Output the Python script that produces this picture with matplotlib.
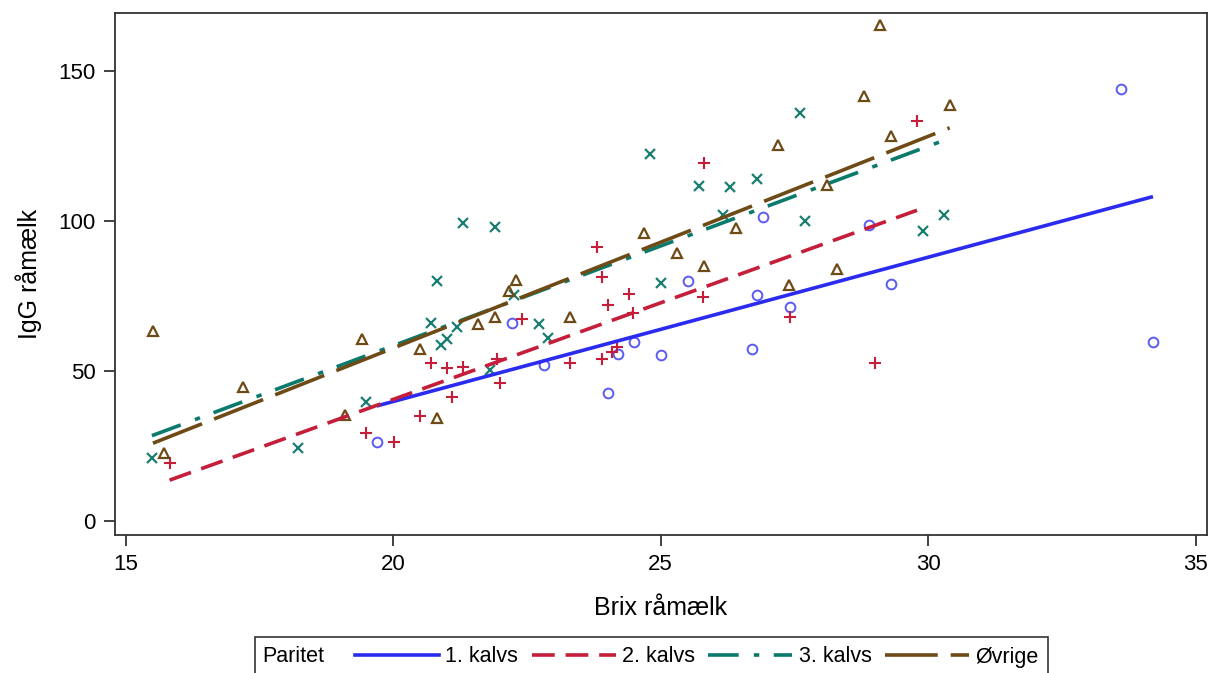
import numpy as np
import matplotlib.pyplot as plt
from matplotlib.lines import Line2D
from matplotlib.patches import Rectangle

plt.rcParams['font.family'] = ['Liberation Sans', 'DejaVu Sans']

# Brix / IgG readings per parity group
brix_1 = [19.69, 22.22, 22.81, 24.01, 24.21, 24.50, 25.01, 25.51, 26.80, 26.70,
          27.41, 29.30, 26.91, 28.90, 33.60, 34.20]
igg_1 = [26.1, 65.7, 51.8, 42.6, 55.5, 59.6, 55.2, 79.8, 75.2, 57.1,
         71.3, 78.7, 101.3, 98.5, 143.8, 59.6]

brix_2 = [15.82, 19.50, 20.01, 20.50, 20.70, 21.00, 21.10, 21.31, 21.99, 21.94,
          22.40, 23.30, 23.90, 24.01, 24.40, 24.18, 24.09, 24.49, 25.79, 27.41,
          29.01, 23.90, 25.80, 23.81, 29.79]
igg_2 = [19.1, 29.1, 26.3, 34.8, 52.4, 50.7, 41.3, 51.3, 45.7, 53.7,
         67.1, 52.6, 53.7, 71.8, 75.5, 57.7, 56.3, 69.1, 74.4, 67.9,
         52.4, 81.3, 119.1, 91.3, 133.2]

brix_3 = [15.49, 18.22, 19.50, 20.70, 20.82, 20.90, 21.00, 21.20, 21.80, 21.30,
          21.91, 22.72, 22.90, 25.01, 22.25, 24.80, 25.71, 26.30, 26.80, 27.61,
          27.70, 26.16, 29.91, 30.30]
igg_3 = [20.9, 24.1, 39.6, 65.9, 79.9, 58.5, 60.4, 64.4, 50.2, 99.3,
         97.9, 65.5, 60.7, 79.1, 75.2, 122.2, 111.5, 111.3, 113.8, 135.7,
         99.9, 101.8, 96.6, 101.8]

brix_4 = [15.51, 15.71, 17.20, 19.10, 19.41, 20.50, 20.82, 21.59, 21.91, 22.16,
          22.30, 23.30, 27.39, 28.29, 24.69, 25.30, 25.80, 26.41, 27.20, 29.09,
          28.80, 29.30, 28.11, 30.40]
igg_4 = [63.2, 22.6, 44.4, 35.2, 60.4, 57.2, 34.1, 65.4, 67.7, 76.6,
         80.2, 67.9, 78.5, 83.7, 95.7, 89.1, 84.8, 97.4, 125.2, 165.2,
         141.6, 128.3, 111.8, 138.5]

# fitted regression lines (intercept, slope)
fit_intercept = [-56.5, -88.4, -74.7, -83.7]
fit_slope = [4.81, 6.44, 6.65, 7.06]

labels = ["1. kalvs", "2. kalvs", "3. kalvs", "Øvrige"]
colors = ["#2b2bf0", "#c41e3a", "#0a7a6c", "#6e4a16"]
point_colors = ["#5a5af5", "#c41e3a", "#1a7f72", "#6e4a16"]
dashes = [None, (6.3, 3.0), (8.5, 4.2, 1.5, 4.0), (14.6, 3.6)]
lw = 2.6

fig = plt.figure(figsize=(12.11, 6.73), dpi=100)
ax = fig.add_axes([115 / 1211, 1 - 535 / 673, (1207 - 115) / 1211, (535 - 13) / 673])

groups = [(brix_1, igg_1), (brix_2, igg_2), (brix_3, igg_3), (brix_4, igg_4)]

ax.plot(brix_1, igg_1, 'o', ms=7, mfc='none', mec=point_colors[0], mew=1.4)
ax.plot(brix_2, igg_2, '+', ms=9, mec=point_colors[1], mew=1.5)
ax.plot(brix_3, igg_3, 'x', ms=7, mec=point_colors[2], mew=1.6)
ax.plot(brix_4, igg_4, '^', ms=7, mfc='none', mec=point_colors[3], mew=1.6)

handles = []
for i, (bx, ig) in enumerate(groups):
    xs = np.array([min(bx), max(bx)])
    ys = fit_intercept[i] + fit_slope[i] * xs
    ln, = ax.plot(xs, ys, color=colors[i], lw=lw, solid_capstyle='butt')
    if dashes[i] is not None:
        ln.set_dashes(dashes[i])
    h = Line2D([], [], color=colors[i], lw=lw)
    if dashes[i] is not None:
        h.set_dashes(dashes[i])
    handles.append(h)

ax.set_xlim(14.80, 35.21)
ax.set_ylim(-4.8, 169.2)
ax.set_xticks([15, 20, 25, 30, 35])
ax.set_yticks([0, 50, 100, 150])
ax.tick_params(labelsize=16, length=8, width=1.3, pad=6, color='#333333')
for s in ax.spines.values():
    s.set_linewidth(1.3)
    s.set_color('#333333')

ax.set_xlabel("Brix råmælk", fontsize=18, labelpad=15)
ax.set_ylabel("IgG råmælk", fontsize=18, labelpad=12)

# legend box at the bottom, cut by the figure edge
fig.patches.append(Rectangle((255 / 1211, -0.02), (1048 - 255) / 1211, 0.02 + 1 - 637 / 673,
                             transform=fig.transFigure, fill=False, edgecolor='#333333', lw=1.2))
fig.text(262 / 1211, 1 - 657 / 673, "Paritet", fontsize=15.5, va='center', ha='left')
fig.legend(handles, labels, loc='center left', bbox_to_anchor=(355 / 1211, 1 - 657 / 673),
           ncol=4, frameon=False, fontsize=15.5, handlelength=3.9, handletextpad=0.3,
           columnspacing=0.62, borderpad=0, borderaxespad=0)

fig.savefig("out.png", dpi=100)
